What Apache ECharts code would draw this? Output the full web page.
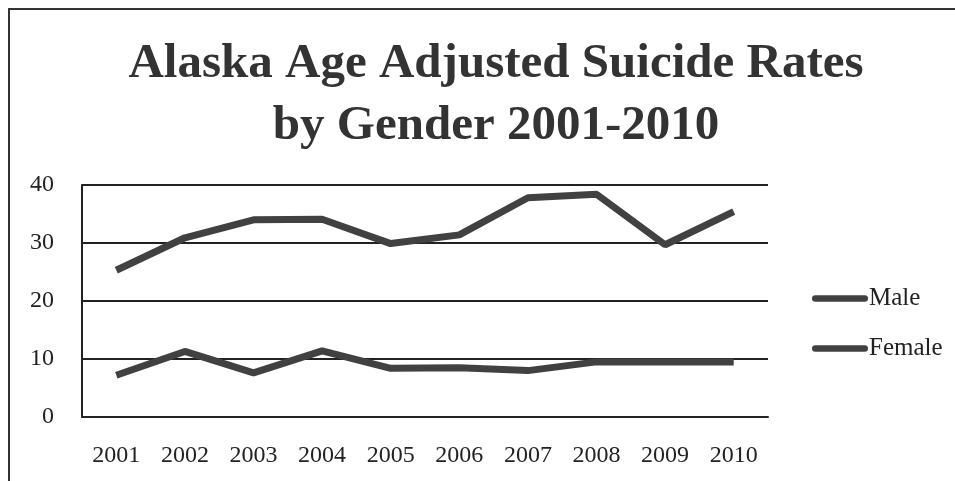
<!DOCTYPE html>
<html>
<head>
<meta charset="utf-8">
<script src="https://cdn.jsdelivr.net/npm/echarts@6/dist/echarts.min.js"></script>
<style>
html,body{margin:0;padding:0;background:#fff;}
#main{position:absolute;left:8px;top:8px;width:947px;height:473px;border-left:2px solid #333;border-top:2px solid #333;box-sizing:border-box;}
</style>
</head>
<body>
<div id="main"></div>
<script>
var years=['2001','2002','2003','2004','2005','2006','2007','2008','2009','2010'];
var male=[25.3,30.9,34.0,34.1,29.9,31.4,37.8,38.4,29.7,35.4];
var female=[7.2,11.3,7.6,11.4,8.4,8.5,8.0,9.5,9.5,9.5];
var yTicks=[0,10,20,30,40];

var serif='"Liberation Serif","DejaVu Serif",serif';
var lineColor='#414141';
var myChart=echarts.init(document.getElementById('main'));
var option={
	animation:false,
	title:{
		text:'Alaska Age Adjusted Suicide Rates\nby Gender 2001-2010',
		left:481,
		textAlign:'center',
		top:18,
		textStyle:{fontFamily:serif,fontSize:49,fontWeight:'bold',color:'#333',lineHeight:62}
	},
	legend:{
		orient:'vertical',
		left:797,
		top:271,
		itemGap:25,
		itemWidth:56,
		itemHeight:14,
		icon:'path://M2,4 L54,4 A3,3 0 0 1 54,11 L2,11 A3,3 0 0 1 2,4 Z',
		textStyle:{fontFamily:serif,fontSize:25,color:'#222',padding:[0,0,0,-4]},
		data:['Male','Female']
	},
	grid:{left:72,top:175,width:686,height:232,containLabel:false},
	xAxis:{
		type:'category',
		data:years,
		axisLine:{show:true,lineStyle:{color:'#222',width:2}},
		axisTick:{show:false},
		axisLabel:{fontFamily:serif,fontSize:24,color:'#222',margin:27}
	},
	yAxis:{
		type:'value',
		min:0,max:40,interval:10,
		axisLine:{show:true,lineStyle:{color:'#222',width:2}},
		axisTick:{show:false},
		splitLine:{lineStyle:{color:'#222',width:2}},
		axisLabel:{fontFamily:serif,fontSize:24,color:'#222',margin:28,
			formatter:function(v){return yTicks.indexOf(v)>=0?String(v):'';}}
	},
	series:[
		{name:'Male',type:'line',data:male,symbol:'none',lineStyle:{color:lineColor,width:7},itemStyle:{color:lineColor}},
		{name:'Female',type:'line',data:female,symbol:'none',lineStyle:{color:lineColor,width:7},itemStyle:{color:lineColor}}
	]
};
myChart.setOption(option);
</script>
</body>
</html>
